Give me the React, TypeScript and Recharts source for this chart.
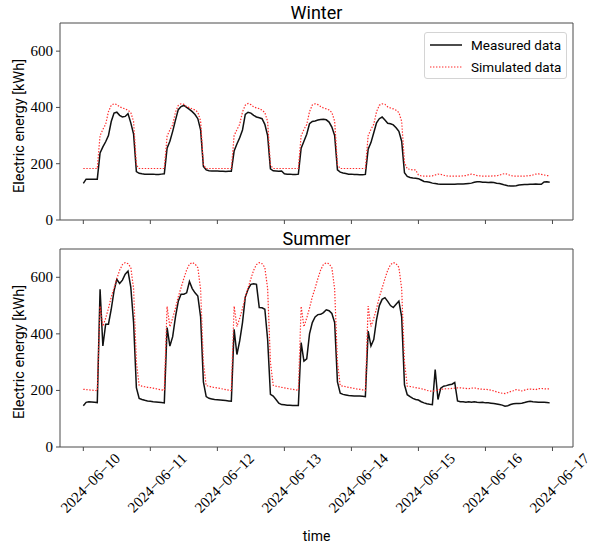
import React from "react";
import { LineChart, Line, XAxis, YAxis, ReferenceArea, Legend } from "recharts";

// x axis: one point per hour, 2024-06-10 00:00 .. 2024-06-16 23:00
const DAY_LABELS = [
  "2024−06−10",
  "2024−06−11",
  "2024−06−12",
  "2024−06−13",
  "2024−06−14",
  "2024−06−15",
  "2024−06−16",
  "2024−06−17",
];
const HOUR_TICKS = [0, 24, 48, 72, 96, 120, 144, 168];
const Y_TICKS = [0, 200, 400, 600];

const winterMeasured = [
  130, 145, 145, 145, 145, 145, 238, 260, 278, 300, 350, 380, 383, 372, 366, 368, 378, 345, 305, 172, 166, 164, 163, 163,
  163, 163, 162, 162, 163, 164, 255, 280, 315, 355, 392, 403, 407, 400, 393, 385, 375, 360, 320, 190, 178, 175, 174, 174,
  174, 173, 173, 172, 173, 173, 245, 270, 292, 320, 375, 383, 380, 372, 366, 363, 360, 340, 300, 182, 175, 174, 173, 174,
  164, 163, 163, 162, 162, 163, 255, 280, 305, 342, 350, 352, 355, 357, 358, 356, 348, 330, 300, 178, 170, 167, 165, 163,
  163, 162, 162, 161, 161, 162, 252, 275, 310, 345, 360, 366, 355, 344, 342, 338, 328, 315, 280, 168, 155, 151, 149, 148,
  147, 142, 137, 136, 134, 131, 130, 128, 127, 127, 127, 127, 127, 127, 128, 128, 128, 129, 130, 131, 134, 136, 136, 134,
  134, 133, 134, 133, 131, 130, 127, 124, 122, 121, 121, 122, 124, 125, 126, 126, 127, 127, 128, 127, 127, 135, 136, 134,
];

const winterSimulated = [
  183, 183, 183, 183, 183, 183, 300, 322, 340, 385, 408, 413, 410, 402, 398, 395, 390, 382, 350, 195, 183, 183, 183, 183,
  183, 183, 183, 183, 183, 183, 298, 320, 338, 383, 407, 413, 411, 403, 399, 395, 391, 383, 352, 196, 183, 183, 183, 183,
  183, 183, 183, 183, 183, 183, 300, 321, 340, 384, 408, 414, 410, 402, 398, 396, 390, 382, 350, 195, 183, 183, 183, 183,
  183, 183, 183, 183, 183, 183, 299, 322, 339, 385, 409, 413, 410, 403, 398, 395, 391, 382, 351, 196, 183, 183, 183, 183,
  183, 183, 183, 183, 183, 183, 300, 322, 340, 385, 408, 413, 411, 402, 398, 395, 390, 382, 350, 205, 182, 180, 178, 178,
  160, 157, 156, 156, 156, 157, 160, 163, 162, 159, 157, 156, 156, 156, 156, 156, 157, 158, 161, 163, 161, 158, 157, 156,
  156, 156, 156, 157, 157, 159, 163, 165, 162, 158, 156, 156, 156, 156, 156, 157, 158, 160, 163, 164, 162, 160, 158, 157,
];

const summerMeasured = [
  146, 158, 160, 159, 158, 157, 558, 357, 434, 434, 487, 552, 593, 578, 590, 611, 622, 565, 440, 210, 172, 168, 165, 163,
  162, 160, 159, 158, 157, 156, 422, 357, 390, 460, 515, 540, 540, 545, 585, 560, 545, 534, 460, 230, 178, 172, 170, 168,
  167, 166, 165, 164, 163, 162, 416, 327, 375, 440, 530, 558, 575, 577, 575, 493, 492, 487, 380, 186, 180, 168, 155, 150,
  149, 148, 148, 147, 147, 147, 369, 304, 312, 400, 440, 460, 468, 469, 475, 485, 482, 472, 440, 230, 190, 186, 184, 182,
  181, 180, 180, 180, 179, 178, 410, 357, 380, 450, 500, 522, 528, 515, 500, 493, 505, 516, 460, 220, 185, 178, 172, 168,
  166, 160, 156, 153, 151, 150, 274, 168, 208, 215, 217, 220, 222, 228, 163, 160, 160, 158, 160, 158, 160, 158, 157, 158,
  156, 156, 155, 154, 152, 150, 148, 144, 146, 150, 153, 154, 154, 155, 157, 160, 162, 160, 159, 158, 158, 158, 157, 156,
];

const summerSimulated = [
  204, 203, 202, 201, 200, 199, 498, 427, 455, 490, 530, 562, 595, 625, 645, 652, 648, 635, 560, 300, 218, 215, 213, 211,
  210, 208, 206, 204, 202, 200, 497, 425, 456, 491, 531, 563, 596, 626, 646, 652, 647, 634, 558, 298, 217, 215, 212, 210,
  209, 207, 205, 203, 201, 199, 498, 426, 455, 490, 530, 562, 595, 625, 645, 652, 648, 635, 560, 300, 218, 215, 213, 211,
  209, 207, 205, 204, 202, 200, 497, 425, 456, 491, 531, 562, 596, 626, 646, 651, 648, 634, 559, 299, 217, 215, 213, 211,
  209, 207, 205, 204, 202, 200, 498, 426, 455, 490, 530, 562, 595, 625, 645, 652, 648, 635, 560, 300, 215, 214, 212, 210,
  208, 206, 204, 200, 198, 197, 199, 202, 204, 205, 206, 206, 207, 208, 209, 209, 208, 207, 206, 208, 209, 207, 205, 204,
  204, 203, 201, 198, 195, 192, 190, 189, 192, 196, 199, 203, 201, 198, 201, 204, 205, 204, 203, 206, 207, 206, 205, 206,
];

const winterData = winterMeasured.map((m, i) => ({ hour: i, measured: m, simulated: winterSimulated[i] }));
const summerData = summerMeasured.map((m, i) => ({ hour: i, measured: m, simulated: summerSimulated[i] }));

// matplotlib-style 5% margins around 0..167
const X_DOMAIN: [number, number] = [-8.35, 175.35];

const SANS = "Roboto, 'DejaVu Sans', sans-serif";
const SERIF = "'Liberation Serif', 'DejaVu Serif', serif";
const FRAME = "#4a4a4a";

const SERIES = {
  measured: { name: "Measured data", color: "#111111", width: 1.5, dash: undefined as string | undefined },
  simulated: { name: "Simulated data", color: "#ff2a2a", width: 1.2, dash: "1.4 1.6" },
};

const EmptyTick = () => <g />;

function ValueTick(props: any) {
  const { x, y, payload } = props;
  return (
    <text
      x={x}
      y={y}
      textAnchor="end"
      dominantBaseline="central"
      style={{ fontFamily: SERIF, fontSize: 15 }}
      fill="#000"
    >
      {payload.value}
    </text>
  );
}

function DateTick(props: any) {
  const { x, y, payload } = props;
  const idx = HOUR_TICKS.indexOf(payload.value);
  const cx = x + 7;
  const cy = y + 30;
  return (
    <text
      x={cx}
      y={cy}
      textAnchor="middle"
      dominantBaseline="central"
      transform={`rotate(-45 ${cx} ${cy})`}
      style={{ fontFamily: SERIF, fontSize: 15 }}
      fill="#000"
    >
      {DAY_LABELS[idx]}
    </text>
  );
}

function LegendBox(props: any) {
  const items = props.payload || [];
  return (
    <div
      style={{
        border: "1px solid #d4d4d4",
        borderRadius: 3,
        background: "#fff",
        width: 143,
        height: 47,
        boxSizing: "border-box",
        paddingTop: 1,
      }}
    >
      {items.map((it: any) => {
        const s = it.dataKey === "simulated" ? SERIES.simulated : SERIES.measured;
        return (
          <div key={s.name} style={{ display: "flex", alignItems: "center", height: 22, whiteSpace: "nowrap" }}>
            <svg width={38} height={10} style={{ marginLeft: 4, flex: "none" }}>
              <line x1={1} y1={5} x2={33} y2={5} stroke={s.color} strokeWidth={s.width} strokeDasharray={s.dash} />
            </svg>
            <span style={{ fontFamily: SANS, fontSize: 13.5, color: "#000", marginLeft: 4 }}>{s.name}</span>
          </div>
        );
      })}
    </div>
  );
}

function Panel({
  data,
  height,
  top,
  bottomAxis,
  showLegend,
}: {
  data: { hour: number; measured: number; simulated: number }[];
  height: number;
  top: number;
  bottomAxis: number;
  showLegend?: boolean;
}) {
  return (
    <LineChart width={601} height={height} data={data} margin={{ top, right: 28, bottom: 0, left: 0 }}>
      <XAxis
        dataKey="hour"
        type="number"
        domain={X_DOMAIN}
        ticks={HOUR_TICKS}
        axisLine={false}
        tickLine={{ stroke: FRAME }}
        tickSize={4}
        height={bottomAxis}
        tick={showLegend ? EmptyTick : DateTick}
        interval={0}
      />
      <YAxis
        type="number"
        domain={[0, 700]}
        ticks={Y_TICKS}
        width={60}
        axisLine={false}
        tickLine={{ stroke: FRAME }}
        tickSize={4}
        tickMargin={3}
        tick={ValueTick}
      />
      <ReferenceArea x1={X_DOMAIN[0]} x2={X_DOMAIN[1]} y1={0} y2={700} fill="none" stroke={FRAME} strokeWidth={1} />
      <Line
        type="linear"
        dataKey="measured"
        name={SERIES.measured.name}
        stroke={SERIES.measured.color}
        strokeWidth={SERIES.measured.width}
        dot={false}
        isAnimationActive={false}
      />
      <Line
        type="linear"
        dataKey="simulated"
        name={SERIES.simulated.name}
        stroke={SERIES.simulated.color}
        strokeWidth={SERIES.simulated.width}
        strokeDasharray={SERIES.simulated.dash}
        dot={false}
        isAnimationActive={false}
      />
      {showLegend ? (
        <Legend
          layout="horizontal"
          verticalAlign="middle"
          align="center"
          content={LegendBox}
          wrapperStyle={{ top: 32, left: 424, width: 143, height: 47 }}
        />
      ) : null}
    </LineChart>
  );
}

export default function App() {
  return (
    <div style={{ position: "absolute", left: 0, top: 0, width: 601, height: 547, background: "#fff" }}>
      <div style={{ position: "absolute", left: 0, top: 0 }}>
        <Panel data={winterData} height={230} top={23} bottomAxis={10} showLegend />
      </div>
      <div style={{ position: "absolute", left: 0, top: 230 }}>
        <Panel data={summerData} height={317} top={19} bottomAxis={100} />
      </div>
      <svg
        width={601}
        height={547}
        style={{ position: "absolute", left: 0, top: 0, pointerEvents: "none" }}
      >
        <text x={316.5} y={19} textAnchor="middle" style={{ fontFamily: SANS, fontSize: 18 }} fill="#000">
          Winter
        </text>
        <text x={316.5} y={245} textAnchor="middle" style={{ fontFamily: SANS, fontSize: 18 }} fill="#000">
          Summer
        </text>
        <text
          x={19}
          y={126}
          textAnchor="middle"
          dominantBaseline="central"
          transform="rotate(-90 19 126)"
          style={{ fontFamily: SANS, fontSize: 14.5 }}
          fill="#000"
        >
          Electric energy [kWh]
        </text>
        <text
          x={19}
          y={352}
          textAnchor="middle"
          dominantBaseline="central"
          transform="rotate(-90 19 352)"
          style={{ fontFamily: SANS, fontSize: 14.5 }}
          fill="#000"
        >
          Electric energy [kWh]
        </text>
        <text x={316.5} y={541} textAnchor="middle" style={{ fontFamily: SANS, fontSize: 14 }} fill="#000">
          time
        </text>
      </svg>
    </div>
  );
}
